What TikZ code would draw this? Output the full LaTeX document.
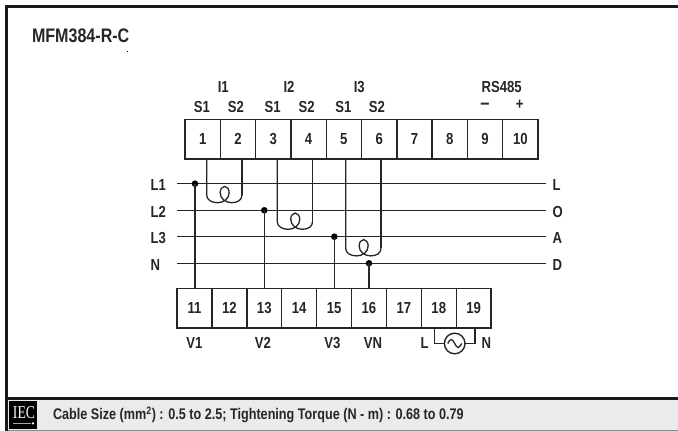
\documentclass[tikz,border=0pt]{standalone}
\usepackage{fontspec}
\setmainfont[FakeStretch=0.82]{Liberation Sans}
\newfontfamily\iecfont[FakeStretch=0.76]{Liberation Serif}
\usepackage{tikz}
\usetikzlibrary{calc}
\definecolor{barfill}{HTML}{EAECEB}
\definecolor{inkcol}{HTML}{262626}
\begin{document}
\begin{tikzpicture}[x=1pt,y=-1pt,
			every node/.style = {inner sep=0pt, outer sep=0pt, text=inkcol,
				font=\fontsize{16}{18}\selectfont\bfseries},
			wire/.style = {draw=inkcol, line width=1.3pt},
			termbox/.style = {shape=rectangle, draw=inkcol, line width=1.4pt, minimum height=39.4pt},
			topbox/.style = {termbox, minimum width=35.3pt},
			lowbox/.style = {termbox, minimum width=34.9pt},
			jointdot/.style = {shape=circle, fill=black, minimum size=6.6pt},
			sidelabel/.style = {anchor=west}]
			\useasboundingbox (0,0) rectangle (678,431);
			\tikzset{line join=round}
			% frame and bottom bar
			\fill[barfill] (8,400) rectangle (678,431);
			\draw[black!45,line width=1pt] (8,430.5) -- (678,430.5);
			\draw[black!90,line width=3.3pt] (8,398.7) -- (678,398.7);
			\draw[black!90,line width=3pt] (6.5,431) -- (6.5,6.5) -- (678,6.5);
			\node[anchor=west,font=\fontsize{19.6}{22}\selectfont\bfseries] (title) at (32,36) {MFM384-R-C};
			\fill[black] (127,51) rectangle (128,52);
			% terminals
			\foreach \n in {1,...,10}
				\node[topbox] (t\n) at ({202.65+35.3*(\n-1)},139.3) {\n};
			\foreach \n in {11,...,19}
				\node[lowbox] (t\n) at ({194.45+34.9*(\n-11)},308.2) {\n};
			\foreach \lbl/\x in {I1/223.3,I2/289,I3/359.3,RS485/501.7}
				\node (top\lbl) at (\x,87.3) {\lbl};
			\foreach \lbl/\x [count=\i] in {S1/202,S2/236,S1/272.7,S2/306.7,S1/343.3,S2/377}
				\node (sec\i) at (\x,107.3) {\lbl};
			\node[font=\fontsize{20}{20}\selectfont\bfseries] (minus) at (485,106) {--};
			\node (plus) at (519.7,105) {+};
			% lines
			\foreach \lft/\rgt/\y/\ly in {L1/L/183.7/185,L2/O/210.3/211.5,L3/A/236.7/238,N/D/263.3/264.5} {
				\node[sidelabel] (in\lft) at (150.5,\ly) {\lft};
				\node[sidelabel] (out\rgt) at (552.5,\ly) {\rgt};
				\coordinate (from\lft) at (177.3,\y);
				\coordinate (to\rgt) at (546,\y);
				\draw[wire] (from\lft) -- (to\rgt);
			}
			% voltage taps
			\node[jointdot] (tapA) at (195,183.7) {};
			\node[jointdot] (tapB) at (264.3,210.3) {};
			\node[jointdot] (tapC) at (334.3,236.7) {};
			\node[jointdot] (tapN) at (369,263.3) {};
			\foreach \tp in {A,B,C,N}
				\draw[wire] (tap\tp.center) -- (tap\tp |- t11.north);
			% current transformers
			\foreach \sa/\sb/\off/\ct in {1/2/4/1,3/4/4/2,5/6/1.8/3} {
				\draw[wire] ([xshift=\off pt]t\sa.south) -- ++(0,{36+26.6*(\ct-1)}) coordinate (ctl\ct)
					.. controls +(0,5) and +(-6,0) .. ++(11,7.7)
					.. controls +(6,0) and +(0,6) .. ++(11.5,-10)
					.. controls +(0,-3.5) and +(2.5,0) .. ++(-4.5,-6.3)
					.. controls +(-2.5,0) and +(0,-3.5) .. ++(-4.5,6.3)
					.. controls +(0,6) and +(-6,0) .. ++(11.5,10)
					.. controls +(6,0) and +(0,5) .. ++(10.3,-7.7) coordinate (ctr\ct);
				\draw[wire] (ctr\ct) -- ([xshift=\off pt]t\sb.south);
			}
			% bottom labels and supply
			\foreach \lbl/\x in {V1/194.5,V2/263,V3/332.5,VN/373}
				\node (low\lbl) at (\x,343) {\lbl};
			\node[sidelabel] (supL) at (420.7,343) {L};
			\node[sidelabel] (supN) at (481.7,343) {N};
			\node[shape=circle, draw=inkcol, line width=1.4pt, minimum size=20.6pt] (acsrc) at (454.7,343.5) {};
			\draw[wire] ([xshift=-4.4pt]t18.south) |- (acsrc.west);
			\draw[wire] ([xshift=1.4pt]t19.south) |- (acsrc.east);
			\draw[wire] ($(acsrc.center)+(-7,0)$) sin ++(3.5,-4) cos ++(3.5,4) sin ++(3.5,4) cos ++(3.5,-4);
			% footer
			\node[shape=rectangle, fill=black, minimum width=28pt, minimum height=28pt] (ieclogo) at (23,415) {};
			\node[text=white, font=\fontsize{18}{18}\selectfont\iecfont] (iecname) at (24,413) {IEC};
			\draw[black!35,line width=1pt] (13,423.3) -- (31,423.3);
			\node[shape=circle, fill=white, minimum size=2.6pt] (iecdot) at (33,423.3) {};
			\node[anchor=west,font=\fontsize{15.4}{17}\selectfont\bfseries] (cable) at (53,415) {Cable Size (mm\textsuperscript{2}) : 0.5 to 2.5; Tightening Torque (N - m) : 0.68 to 0.79};
			\end{tikzpicture}
\end{document}
